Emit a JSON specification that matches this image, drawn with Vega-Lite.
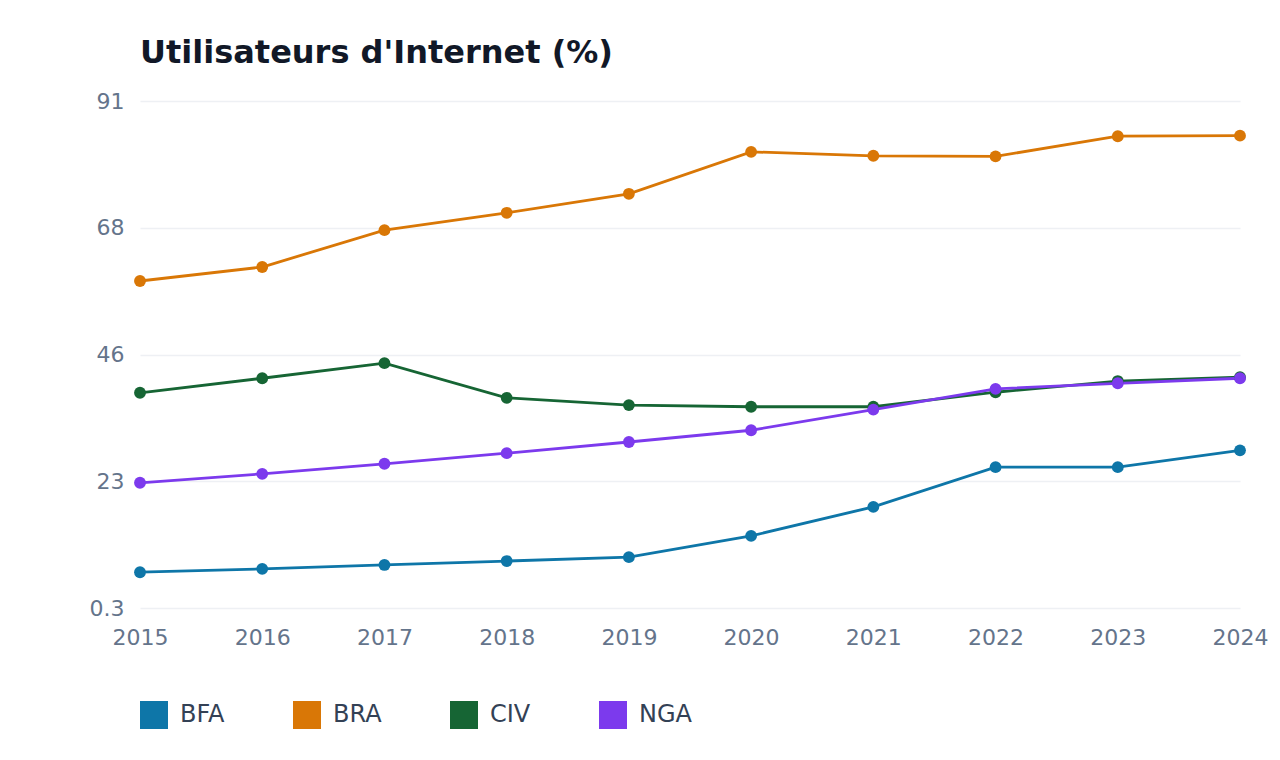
{
  "$schema": "https://vega.github.io/schema/vega-lite/v6.json",
  "autosize": "none",
  "width": 1100,
  "height": 507,
  "padding": {"left": 140, "top": 101, "right": 40, "bottom": 152},
  "background": "white",
  "title": {
    "text": "Utilisateurs d'Internet (%)",
    "anchor": "start",
    "frame": "group",
    "font": "DejaVu Sans",
    "fontSize": 32,
    "fontWeight": "bold",
    "color": "#111827",
    "offset": 20
  },
  "data": {
    "values": [
      {"year": 2015, "country": "BFA", "value": 6.7},
      {"year": 2016, "country": "BFA", "value": 7.3},
      {"year": 2017, "country": "BFA", "value": 8.0},
      {"year": 2018, "country": "BFA", "value": 8.7},
      {"year": 2019, "country": "BFA", "value": 9.4},
      {"year": 2020, "country": "BFA", "value": 13.2},
      {"year": 2021, "country": "BFA", "value": 18.4},
      {"year": 2022, "country": "BFA", "value": 25.5},
      {"year": 2023, "country": "BFA", "value": 25.5},
      {"year": 2024, "country": "BFA", "value": 28.5},
      {"year": 2015, "country": "BRA", "value": 58.8},
      {"year": 2016, "country": "BRA", "value": 61.3},
      {"year": 2017, "country": "BRA", "value": 67.9},
      {"year": 2018, "country": "BRA", "value": 71.0},
      {"year": 2019, "country": "BRA", "value": 74.4},
      {"year": 2020, "country": "BRA", "value": 81.9},
      {"year": 2021, "country": "BRA", "value": 81.2},
      {"year": 2022, "country": "BRA", "value": 81.1},
      {"year": 2023, "country": "BRA", "value": 84.7},
      {"year": 2024, "country": "BRA", "value": 84.8},
      {"year": 2015, "country": "CIV", "value": 38.8},
      {"year": 2016, "country": "CIV", "value": 41.4},
      {"year": 2017, "country": "CIV", "value": 44.1},
      {"year": 2018, "country": "CIV", "value": 37.9},
      {"year": 2019, "country": "CIV", "value": 36.6},
      {"year": 2020, "country": "CIV", "value": 36.3},
      {"year": 2021, "country": "CIV", "value": 36.3},
      {"year": 2022, "country": "CIV", "value": 38.9},
      {"year": 2023, "country": "CIV", "value": 40.9},
      {"year": 2024, "country": "CIV", "value": 41.6},
      {"year": 2015, "country": "NGA", "value": 22.7},
      {"year": 2016, "country": "NGA", "value": 24.3},
      {"year": 2017, "country": "NGA", "value": 26.1},
      {"year": 2018, "country": "NGA", "value": 28.0},
      {"year": 2019, "country": "NGA", "value": 30.0},
      {"year": 2020, "country": "NGA", "value": 32.1},
      {"year": 2021, "country": "NGA", "value": 35.8},
      {"year": 2022, "country": "NGA", "value": 39.5},
      {"year": 2023, "country": "NGA", "value": 40.5},
      {"year": 2024, "country": "NGA", "value": 41.4}
    ]
  },
  "encoding": {
    "x": {
      "field": "year",
      "type": "quantitative",
      "scale": {"domain": [2015, 2024], "nice": false, "zero": false},
      "axis": {
        "title": null,
        "values": [2015, 2016, 2017, 2018, 2019, 2020, 2021, 2022, 2023, 2024],
        "format": "d",
        "grid": false,
        "domain": false,
        "ticks": false,
        "labelPadding": 19,
        "labelFlush": false
      }
    },
    "y": {
      "field": "value",
      "type": "quantitative",
      "scale": {"domain": [0.3, 91], "nice": false, "zero": false},
      "axis": {
        "title": null,
        "values": [0.3, 22.975, 45.65, 68.325, 91],
        "format": ".2~r",
        "domain": false,
        "ticks": false,
        "labelPadding": 16,
        "gridColor": "#eef0f4",
        "gridWidth": 1.5
      }
    },
    "color": {
      "field": "country",
      "type": "nominal",
      "scale": {
        "domain": ["BFA", "BRA", "CIV", "NGA"],
        "range": ["#0e76a8", "#d97706", "#166534", "#7c3aed"]
      },
      "legend": {
        "title": null,
        "orient": "none",
        "legendX": 0,
        "legendY": 600,
        "direction": "horizontal",
        "columns": 4,
        "symbolType": "square",
        "symbolSize": 784,
        "symbolStrokeWidth": 0,
        "symbolOpacity": 1,
        "labelFont": "DejaVu Sans",
        "labelFontSize": 24,
        "labelColor": "#334155",
        "labelOffset": 12,
        "columnPadding": 68
      }
    }
  },
  "layer": [
    {"mark": {"type": "line", "strokeWidth": 2.8}},
    {"mark": {"type": "point", "filled": true, "size": 140, "opacity": 1, "shape": "circle"}}
  ],
  "config": {
    "view": {"stroke": null},
    "axis": {
      "labelFont": "DejaVu Sans",
      "labelFontSize": 22,
      "labelColor": "#64748b"
    }
  }
}
